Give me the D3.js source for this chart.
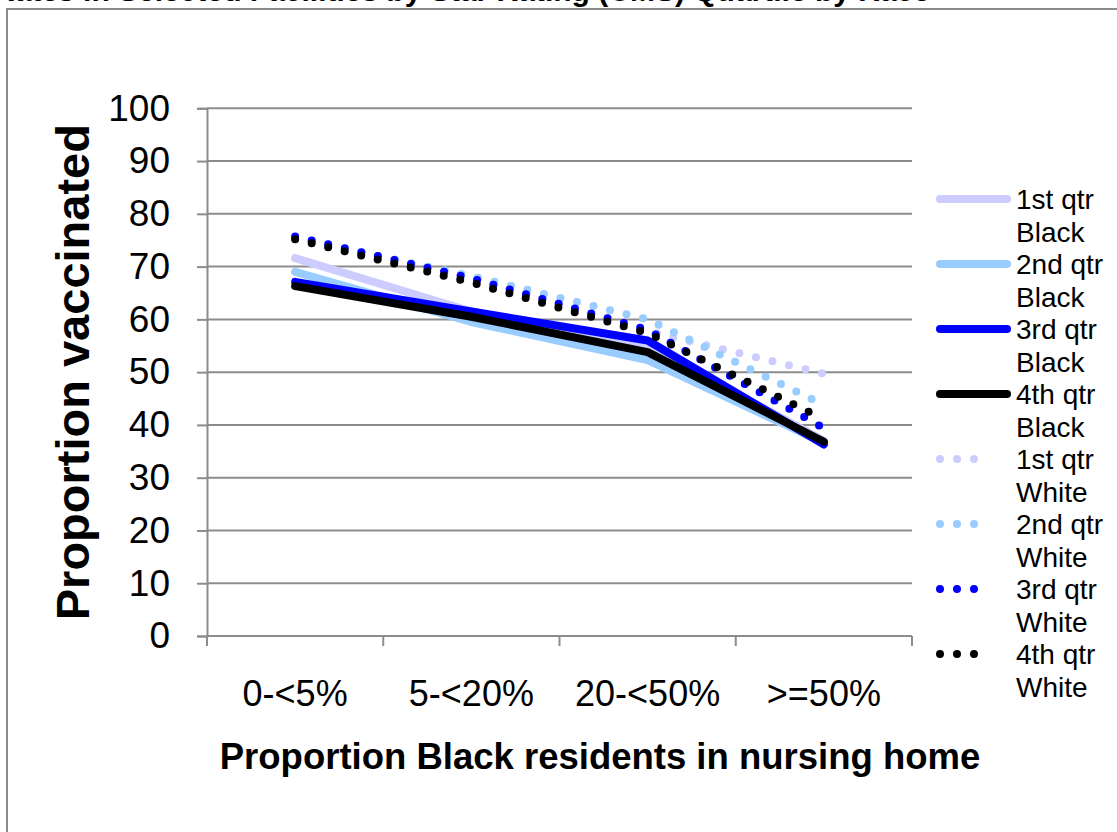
<!DOCTYPE html>
<html>
<head>
<meta charset="utf-8">
<script src="https://cdn.jsdelivr.net/npm/d3@7"></script>
<style>
  html, body { margin: 0; padding: 0; background: #fff; overflow: hidden; }
  svg { display: block; font-family: "Liberation Sans", Arial, sans-serif; }
</style>
</head>
<body>
<svg id="chart" width="1117" height="832"></svg>
<script>
// Nursing-home categories by share of Black residents
const categories = ["0-<5%", "5-<20%", "20-<50%", ">=50%"];

// Vaccination proportions by facility quartile, Black residents (solid lines)
const q1Black = [71.6, 61.5, 55.0, 37.0];
const q2Black = [69.0, 59.5, 52.3, 36.6];
const q3Black = [67.1, 61.5, 56.0, 36.3];
const q4Black = [66.3, 60.5, 53.8, 36.8];

// Vaccination proportions by facility quartile, White residents (dotted lines)
const q1White = [75.2, 68.0, 57.8, 49.7];
const q2White = [75.4, 68.2, 60.0, 43.8];
const q3White = [75.7, 67.8, 58.0, 39.4];
const q4White = [75.2, 67.0, 57.4, 41.1];

const seriesNames = [
  "1st qtr Black", "2nd qtr Black", "3rd qtr Black", "4th qtr Black",
  "1st qtr White", "2nd qtr White", "3rd qtr White", "4th qtr White"
];
const yTicks = [0, 10, 20, 30, 40, 50, 60, 70, 80, 90, 100];

const titleText = "Vaccination Rates in Selected Facilities by Star Rating (CMS) Quartile by Race";
const xTitle = "Proportion Black residents in nursing home";
const yTitle = "Proportion vaccinated";

const palette = ["#CCCCFF", "#99CCFF", "#0000FF", "#000000"];
const seriesValues = [q1Black, q2Black, q3Black, q4Black, q1White, q2White, q3White, q4White];
const series = seriesNames.map((name, i) => ({
  name,
  values: seriesValues[i],
  color: palette[i % 4],
  dotted: i >= 4
}));

const svg = d3.select("#chart");
const gray = "#8C8C8C";

// Chart frame (extends past the right and bottom edges)
svg.append("rect")
  .attr("x", 7).attr("y", 9)
  .attr("width", 1200).attr("height", 900)
  .attr("fill", "#fff")
  .attr("stroke", gray).attr("stroke-width", 2);

// Title, mostly above the visible area
svg.append("text")
  .attr("x", 930).attr("y", 1)
  .attr("text-anchor", "end")
  .attr("font-weight", "bold")
  .attr("font-size", 30)
  .text(titleText);

const plot = { left: 207, right: 912, top: 108.3, bottom: 636 };

const x = d3.scaleBand().domain(categories).range([plot.left, plot.right]).padding(0);
const y = d3.scaleLinear().domain([0, 100]).range([plot.bottom, plot.top]);
const cx = c => x(c) + x.bandwidth() / 2;

// Horizontal gridlines
svg.append("g")
  .selectAll("line")
  .data(yTicks.filter(t => t > 0))
  .join("line")
  .attr("x1", plot.left).attr("x2", plot.right)
  .attr("y1", d => y(d)).attr("y2", d => y(d))
  .attr("stroke", gray).attr("stroke-width", 2);

// Y axis
const yAxis = svg.append("g")
  .attr("transform", `translate(${plot.left},0)`)
  .call(d3.axisLeft(y).tickValues(yTicks).tickSize(10).tickPadding(27).tickFormat(d3.format("d")));
yAxis.select(".domain").attr("stroke", gray).attr("stroke-width", 2);
yAxis.selectAll(".tick line").attr("stroke", gray).attr("stroke-width", 2);
yAxis.selectAll(".tick text")
  .attr("font-family", "'Liberation Sans', Arial, sans-serif")
  .attr("font-size", 37).attr("fill", "#000");

// X axis with ticks on band boundaries
const xAxisG = svg.append("g");
xAxisG.append("line")
  .attr("x1", plot.left).attr("x2", plot.right)
  .attr("y1", plot.bottom).attr("y2", plot.bottom)
  .attr("stroke", gray).attr("stroke-width", 2);
const boundaries = categories.map(c => x(c)).concat([x(categories[categories.length - 1]) + x.bandwidth()]);
xAxisG.selectAll("line.tick")
  .data(boundaries)
  .join("line")
  .attr("class", "tick")
  .attr("x1", d => d).attr("x2", d => d)
  .attr("y1", plot.bottom).attr("y2", plot.bottom + 10)
  .attr("stroke", gray).attr("stroke-width", 2);
xAxisG.selectAll("text")
  .data(categories)
  .join("text")
  .attr("x", d => cx(d))
  .attr("y", 706)
  .attr("text-anchor", "middle")
  .attr("font-size", 36)
  .text(d => d);

// Axis titles
svg.append("text")
  .attr("x", 600).attr("y", 769)
  .attr("text-anchor", "middle")
  .attr("font-weight", "bold")
  .attr("font-size", 36.5)
  .text(xTitle);

svg.append("text")
  .attr("transform", `translate(89,${(plot.top + plot.bottom) / 2}) rotate(-90)`)
  .attr("text-anchor", "middle")
  .attr("font-weight", "bold")
  .attr("font-size", 47)
  .text(yTitle);

// Series lines
const line = d3.line()
  .x((d, i) => cx(categories[i]))
  .y(d => y(d));

svg.append("g")
  .selectAll("path")
  .data(series)
  .join("path")
  .attr("d", d => line(d.values))
  .attr("fill", "none")
  .attr("stroke", d => d.color)
  .attr("stroke-width", 8)
  .attr("stroke-linecap", "round")
  .attr("stroke-linejoin", "round")
  .attr("stroke-dasharray", d => d.dotted ? "0,17" : null);

// Legend
const legend = svg.append("g");
const entry = legend.selectAll("g")
  .data(series)
  .join("g")
  .attr("transform", (d, i) => `translate(0,${199 + i * 65})`);
entry.append("line")
  .attr("x1", 940)
  .attr("x2", d => d.dotted ? 991 : 1007)
  .attr("y1", 0).attr("y2", 0)
  .attr("stroke", d => d.color)
  .attr("stroke-width", 8)
  .attr("stroke-linecap", "round")
  .attr("stroke-dasharray", d => d.dotted ? "0,17" : null);
const lt = entry.append("text")
  .attr("x", 1016)
  .attr("y", 10)
  .attr("font-size", 28);
lt.append("tspan").attr("x", 1016).attr("dy", 0)
  .text(d => d.name.split(" ").slice(0, 2).join(" "));
lt.append("tspan").attr("x", 1016).attr("dy", 33)
  .text(d => d.name.split(" ")[2]);
</script>
</body>
</html>
